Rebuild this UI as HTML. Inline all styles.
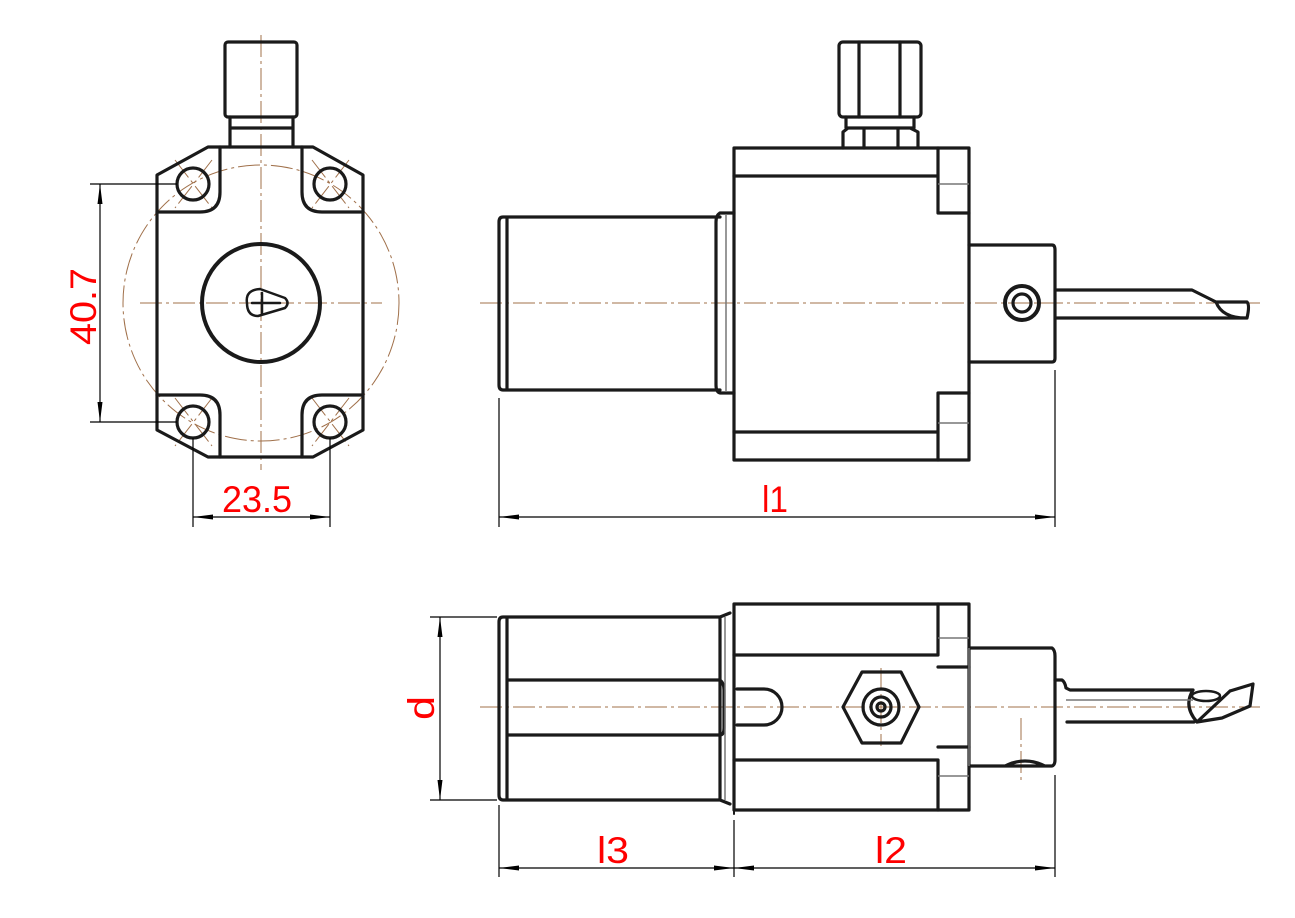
<!DOCTYPE html>
<html><head><meta charset="utf-8"><style>
html,body{margin:0;padding:0;background:#fff;}
svg{display:block;}
.o{fill:none;stroke:#1a1a1a;stroke-width:3.2;stroke-linejoin:round;stroke-linecap:round;}
.t{fill:none;stroke:#777;stroke-width:1.5;}
.c{fill:none;stroke:#a0704a;stroke-width:1;stroke-dasharray:22 4 3 4;}
.d{fill:none;stroke:#000;stroke-width:1.2;}
.r{fill:#f00;font-family:"Liberation Sans Narrow","Liberation Sans",sans-serif;font-size:37px;}
</style></head><body>
<svg width="1295" height="918" viewBox="0 0 1295 918" xmlns="http://www.w3.org/2000/svg">

<!-- FRONT VIEW -->
<path class="c" d="M261,35 V470 M140,303 H382"/>
<circle class="c" cx="261" cy="303" r="138"/>
<path class="c" d="M175,160 L212,208 M212,160 L175,208 M312,160 L349,208 M349,160 L312,208 M175,398 L212,446 M212,398 L175,446 M312,398 L349,446 M349,398 L312,446"/>
<rect class="o" x="225" y="42" width="72" height="75" rx="3"/>
<path class="o" d="M230,117 V128 H293 V117 M230,128 V147 M293,128 V147"/>
<path class="o" d="M208,147 H313 L363,175 V430 L313,457 H208 L157,430 V175 Z"/>
<path class="o" d="M157,212 H200 Q220,212 220,192 V147 M363,212 H322 Q302,212 302,192 V147 M157,395 H200 Q220,395 220,415 V457 M363,395 H322 Q302,395 302,415 V457"/>
<circle class="o" cx="193" cy="184" r="16"/><circle class="o" cx="330" cy="184" r="16"/>
<circle class="o" cx="193" cy="422" r="16"/><circle class="o" cx="330" cy="422" r="16"/>
<circle class="o" cx="261" cy="303" r="59" style="stroke-width:4"/>
<path class="o" d="M247,303 Q245,290 260,289 L285,298 Q290,303 285,308 L258,316 Q247,316 247,303 Z M252,303 H280 M262,293 V314" style="stroke-width:2.5"/>
<path class="d" d="M90,184 H177 M90,422 H177 M100,184 V422"/>
<path d="M100,184 L97.5,204 L102.5,204 Z M100,422 L97.5,402 L102.5,402 Z" fill="#000"/>
<text class="r" transform="translate(96,345) rotate(-90)" textLength="77" lengthAdjust="spacingAndGlyphs">40.7</text>
<path class="d" d="M193,438 V527 M330,438 V527 M193,517 H330"/>
<path d="M193,517 L213,514.5 L213,519.5 Z M330,517 L310,514.5 L310,519.5 Z" fill="#000"/>
<text class="r" x="222" y="512" textLength="70" lengthAdjust="spacingAndGlyphs">23.5</text>

<!-- SIDE VIEW TOP -->
<path class="c" d="M480,303 H1260"/>
<rect class="o" x="839" y="42" width="82" height="75" rx="4"/>
<path class="o" d="M859,42 V117 M900,42 V117 M846,117 V128 H914 V117 M843,148 V132 L848,128 H910 L918,132 V148 M864,128 V148 M898,128 V148"/>
<rect class="o" x="734" y="148" width="235" height="312"/>
<path class="o" d="M734,176 H938 V148 M938,176 V213 H969 M734,432 H938 V460 M938,432 V393 H969"/>
<path class="t" d="M938,184 H969 M938,423 H969"/>
<path class="o" d="M503,217 H720 M503,390 H720 M503,217 Q499,217 499,222 V385 Q499,390 503,390 M507,217 V390 M720,213 H734 M720,393 H734 M720,213 Q716,215 716,222 V385 Q716,392 720,393"/>
<path class="t" d="M726,214 V392"/>
<path class="o" d="M969,245 H1052 Q1055,245 1055,250 V358 Q1055,362 1052,362 H969"/>
<circle class="o" cx="1022" cy="303" r="17" style="stroke-width:4"/>
<circle class="o" cx="1022" cy="303" r="9"/>
<path class="o" d="M1057,290 H1192 L1216,302 H1247 Q1250,305 1247,318 M1057,318 H1246 M1216,302 Q1222,318 1246,318"/>
<path class="d" d="M499,398 V527 M1055,370 V527 M499,517 H1055"/>
<path d="M499,517 L519,514.5 L519,519.5 Z M1055,517 L1035,514.5 L1035,519.5 Z" fill="#000"/>
<text class="r" x="762" y="512" textLength="26" lengthAdjust="spacingAndGlyphs">l1</text>

<!-- BOTTOM VIEW -->
<path class="c" d="M480,707 H1260 M881,668 V746 M1021,718 V780"/>
<rect class="o" x="734" y="604" width="235" height="206"/>
<path class="o" d="M734,655 H938 V604 M938,667 H969 M734,760 H938 V810 M938,747 H969"/>
<path class="t" d="M938,638 H969 M938,776 H969"/>
<path class="o" d="M737,689 H764 A18,18 0 0 1 764,725 H737"/>
<path class="o" d="M862,672 H901 L919,707 L901,743 H862 L843,707 Z"/>
<circle class="o" cx="881" cy="707" r="18"/><circle class="o" cx="881" cy="707" r="10"/><circle class="o" cx="881" cy="707" r="4"/>
<path class="o" d="M969,648 H1052 Q1055,650 1055,656 V760 Q1055,765 1052,766 H969 M1005,766 Q1025,756 1045,766"/>
<path class="t" d="M969,648 V766"/>
<path class="o" d="M1055,680 H1062 Q1065,682 1066,688 L1070,690 H1193 M1067,722 H1194 M1193,690 Q1183,706 1197,722 L1222,718 L1250,706 L1253,684 L1230,691 M1197,722 L1230,691"/>
<ellipse class="o" cx="1206" cy="696" rx="14" ry="5" style="stroke-width:2.5"/>
<path class="t" d="M1066,700 H1193"/>
<path class="o" d="M503,617 H720 M503,800 H720 M503,617 Q499,617 499,622 V795 Q499,800 503,800 M507,617 V800 M507,680 H720 Q724,683 724,690 V728 Q724,735 720,735 H507 M720,617 L730,613 M720,800 L730,804 M720,617 V800"/>
<path class="t" d="M725,617 V800"/>
<path class="o" d="M734,613 V814" style="stroke-width:2"/>
<path class="d" d="M430,617 H497 M430,800 H497 M440,617 V800"/>
<path d="M440,617 L437.5,637 L442.5,637 Z M440,800 L437.5,780 L442.5,780 Z" fill="#000"/>
<text class="r" transform="translate(434,720) rotate(-90)" textLength="24" lengthAdjust="spacingAndGlyphs">d</text>
<path class="d" d="M499,805 V877 M734,820 V877 M1055,775 V877 M499,868 H1055"/>
<path d="M499,868 L519,865.5 L519,870.5 Z M734,868 L714,865.5 L714,870.5 Z M734,868 L754,865.5 L754,870.5 Z M1055,868 L1035,865.5 L1035,870.5 Z" fill="#000"/>
<text class="r" x="597" y="863" textLength="32" lengthAdjust="spacingAndGlyphs">l3</text>
<text class="r" x="875" y="863" textLength="32" lengthAdjust="spacingAndGlyphs">l2</text>
</svg>
</body></html>
